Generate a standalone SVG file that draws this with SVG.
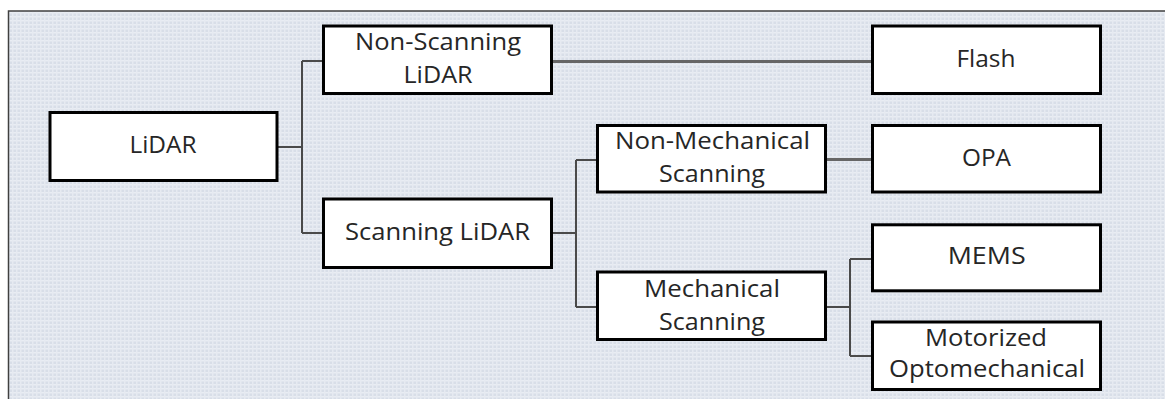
<svg xmlns="http://www.w3.org/2000/svg" width="1165" height="399" viewBox="0 0 1165 399">
<style>
.box{fill:#ffffff;stroke:#000000;stroke-width:3}
.t{font-family:"Open Sans","Liberation Sans",sans-serif;font-size:24px;fill:#262626;text-anchor:middle}
.c{fill:none;stroke:#4a4a4a;stroke-width:2}
.c2{fill:none;stroke:#666666;stroke-width:3}
</style>
<defs>
<pattern id="bg" width="4" height="4" patternUnits="userSpaceOnUse">
<rect width="4" height="4" fill="#d8dee8"/>
<rect x="0" y="0" width="4" height="1.5" fill="#e9edf3"/>
<rect x="0" y="0" width="1.5" height="4" fill="#e6eaf1"/>
</pattern>
</defs>
<rect x="0" y="0" width="1165" height="399" fill="#ffffff"/>
<rect x="8.5" y="11" width="1170" height="400" fill="url(#bg)" stroke="#404040" stroke-width="1.5"/>
<g id="connectors">
<path class="c" d="M278 147 H302 M302 61 V233 M302 61 H322 M302 233 H322"/>
<path class="c2" d="M553 61.5 H871"/>
<path class="c" d="M553 233 H576 M576 160 V307 M576 160 H596 M576 307 H596"/>
<path class="c2" d="M827 159.5 H871"/>
<path class="c" d="M827 307 H850 M850 259 V356 M850 259 H871 M850 356 H871"/>
</g>
<g id="lidar">
<rect class="box" x="50" y="112.5" width="227" height="68"/>
<text class="t" x="163" y="153" textLength="67" lengthAdjust="spacingAndGlyphs">LiDAR</text>
</g>
<g id="non-scanning">
<rect class="box" x="323.5" y="26" width="228" height="67.5"/>
<text class="t" x="438" y="50" textLength="166" lengthAdjust="spacingAndGlyphs">Non-Scanning</text>
<text class="t" x="438" y="83" textLength="69" lengthAdjust="spacingAndGlyphs">LiDAR</text>
</g>
<g id="scanning">
<rect class="box" x="323.5" y="199" width="228" height="68.5"/>
<text class="t" x="437.5" y="240" textLength="185" lengthAdjust="spacingAndGlyphs">Scanning LiDAR</text>
</g>
<g id="flash">
<rect class="box" x="872.5" y="26" width="228" height="67.5"/>
<text class="t" x="986" y="66.5" textLength="59" lengthAdjust="spacingAndGlyphs">Flash</text>
</g>
<g id="non-mechanical">
<rect class="box" x="597.5" y="125.5" width="228" height="66.5"/>
<text class="t" x="712.5" y="149" textLength="195" lengthAdjust="spacingAndGlyphs">Non-Mechanical</text>
<text class="t" x="712" y="182" textLength="106" lengthAdjust="spacingAndGlyphs">Scanning</text>
</g>
<g id="opa">
<rect class="box" x="872.5" y="125.5" width="228" height="66.5"/>
<text class="t" x="986.5" y="165.5" textLength="49" lengthAdjust="spacingAndGlyphs">OPA</text>
</g>
<g id="mechanical">
<rect class="box" x="597.5" y="272" width="228" height="67.5"/>
<text class="t" x="712" y="296.5" textLength="136" lengthAdjust="spacingAndGlyphs">Mechanical</text>
<text class="t" x="712" y="329.5" textLength="106" lengthAdjust="spacingAndGlyphs">Scanning</text>
</g>
<g id="mems">
<rect class="box" x="872.5" y="224.8" width="228" height="66"/>
<text class="t" x="986.7" y="264.3" textLength="78" lengthAdjust="spacingAndGlyphs">MEMS</text>
</g>
<g id="motorized">
<rect class="box" x="872.5" y="322" width="228" height="67.5"/>
<text class="t" x="986" y="345.7" textLength="122" lengthAdjust="spacingAndGlyphs">Motorized</text>
<text class="t" x="987" y="376.7" textLength="196" lengthAdjust="spacingAndGlyphs">Optomechanical</text>
</g>
</svg>
